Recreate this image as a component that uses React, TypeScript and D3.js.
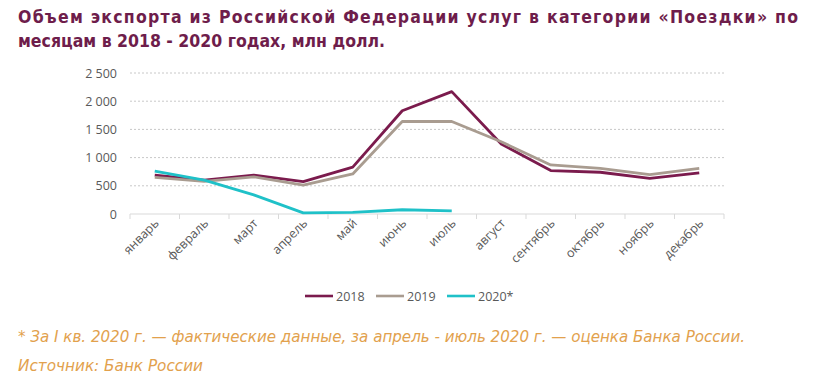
import React from "react";
import * as d3 from "d3";

const months = ["январь","февраль","март","апрель","май","июнь","июль","август","сентябрь","октябрь","ноябрь","декабрь"];
const v2018 = [690, 600, 690, 575, 830, 1830, 2170, 1240, 770, 740, 630, 730];
const v2019 = [650, 580, 660, 510, 710, 1640, 1640, 1280, 870, 810, 700, 810];
const v2020 = [760, 600, 340, 20, 30, 75, 55];
const yTicks = [0, 500, 1000, 1500, 2000, 2500];
const seriesNames = ["2018", "2019", "2020*"];
const colors = ["#7b1b4d", "#a99c90", "#1fc1c8"];

const fmt = (v: number) => d3.format(",")(v).replace(/,/g, " ");

export default function App() {
  const W = 830, H = 382;
  const x = d3.scaleBand<string>().domain(months).range([130, 724]);
  const y = d3.scaleLinear().domain([0, 2500]).range([214, 73]);
  const line = d3.line<number>().x((_, i) => (x(months[i]) as number) + x.bandwidth() / 2).y(d => y(d));
  const all = [v2018, v2019, v2020];
  const axisFont = "'Open Sans', sans-serif";
  return (
    <svg width={W} height={H} style={{ position: "absolute", left: 0, top: 0 }}>
      <rect width={W} height={H} fill="#fff" />
      <g fontFamily="'DejaVu Sans Condensed', 'DejaVu Sans', sans-serif" fontWeight="bold" fontSize={17.5} fill="#6e1d4b">
        <text x={18} y={23} textLength={780} lengthAdjust="spacing">Объем экспорта из Российской Федерации услуг в категории «Поездки»  по</text>
        <text x={18} y={47} textLength={367} lengthAdjust="spacingAndGlyphs">месяцам в 2018 - 2020 годах, млн долл.</text>
      </g>
      {yTicks.map(t => (
        <g key={t}>
          {t > 0 && <line x1={130} x2={724} y1={y(t)} y2={y(t)} stroke="#c8c8c8" strokeDasharray="2 2" />}
          <text x={117} y={y(t) + 4.5} textAnchor="end" fontFamily={axisFont} fontSize={12.5} fill="#595959">{fmt(t)}</text>
        </g>
      ))}
      <line x1={130} x2={724} y1={y(0)} y2={y(0)} stroke="#d9d9d9" />
      {d3.range(months.length + 1).map(i => {
        const xx = 130 + i * x.step();
        return <line key={i} x1={xx} x2={xx} y1={214} y2={219} stroke="#d9d9d9" />;
      })}
      {months.map(m => {
        const cx = (x(m) as number) + x.bandwidth() / 2 + 5;
        return (
          <text key={m} transform={`translate(${cx},224) rotate(-45)`} textAnchor="end" fontFamily={axisFont} fontSize={12.5} fill="#595959">{m}</text>
        );
      })}
      {all.map((s, i) => (
        <path key={i} d={line(s) as string} fill="none" stroke={colors[i]} strokeWidth={2.8} strokeLinejoin="round" />
      ))}
      {seriesNames.map((n, i) => {
        const lx = [305, 376, 447][i];
        return (
          <g key={n}>
            <line x1={lx} x2={lx + 28} y1={296} y2={296} stroke={colors[i]} strokeWidth={2.6} />
            <text x={lx + 31} y={300.5} fontFamily={axisFont} fontSize={12.5} fill="#595959">{n}</text>
          </g>
        );
      })}
      <g fontFamily="'DejaVu Sans Condensed', 'DejaVu Sans', sans-serif" fontStyle="italic" fontSize={16.5} fill="#e2a14d">
        <text x={18} y={342} textLength={727} lengthAdjust="spacingAndGlyphs">* За I кв. 2020 г. — фактические данные, за апрель - июль 2020 г. — оценка Банка России.</text>
        <text x={18} y={371} textLength={185} lengthAdjust="spacingAndGlyphs">Источник:  Банк России</text>
      </g>
    </svg>
  );
}
